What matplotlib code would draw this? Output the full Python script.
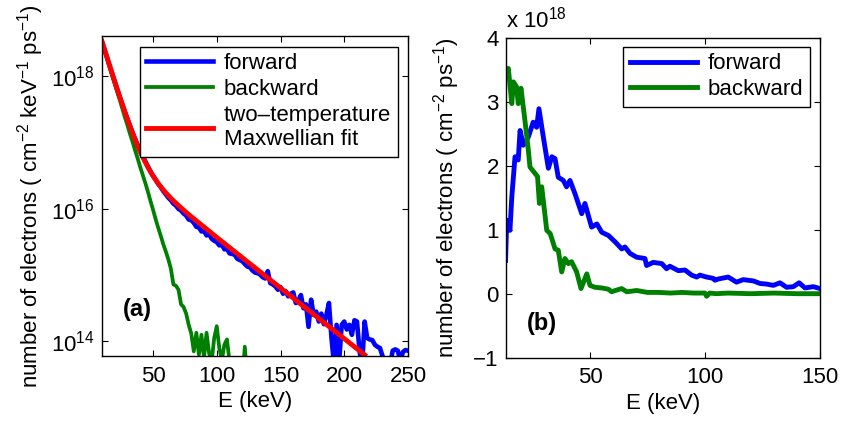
import numpy as np
import matplotlib
matplotlib.use("Agg")
import matplotlib.pyplot as plt

plt.rcParams['font.family'] = ['Liberation Sans', 'DejaVu Sans']
plt.rcParams['mathtext.fontset'] = 'custom'
plt.rcParams['mathtext.rm'] = 'Liberation Sans'
plt.rcParams['mathtext.it'] = 'Liberation Sans:italic'
plt.rcParams['mathtext.bf'] = 'Liberation Sans:bold'

# ---------------- (a) spectra per keV, log scale ----------------
energy_a = np.arange(10, 251, 2)  # keV

forward_log10 = [
    18.52, 18.40, 18.28, 18.155, 18.035, 17.915, 17.80, 17.685, 17.57, 17.46,
    17.355, 17.25, 17.15, 17.055, 16.96, 16.87, 16.795, 16.715, 16.64, 16.565,
    16.50, 16.445, 16.38, 16.33, 16.27, 16.22, 16.17, 16.13, 16.08, 16.05,
    16.00, 15.975, 15.93, 15.90, 15.84, 15.83, 15.79, 15.73, 15.72, 15.66,
    15.67, 15.60, 15.62, 15.55, 15.52, 15.50, 15.45, 15.46, 15.39, 15.40,
    15.33, 15.32, 15.31, 15.25, 15.23, 15.21, 15.17, 15.13, 15.12, 15.07,
    15.04, 15.03, 15.01, 14.97, 14.95, 15.06, 14.88, 14.86, 14.83, 14.78,
    14.82, 14.72, 14.76, 14.68, 14.72, 14.74, 14.58, 14.62, 14.70, 14.50,
    14.56, 14.22, 14.63, 14.40, 14.45, 14.30, 14.42, 14.26, 14.40, 14.58,
    14.05, 13.65, 14.25, 13.70, 14.25, 14.30, 14.18, 14.25, 14.10, 14.32,
    14.30, 13.85, 13.65, 14.30, 14.05, 14.03, 14.02, 13.95, 13.92, 13.90,
    13.78, 13.70, 13.60, 13.65, 13.86, 13.88, 13.86, 13.70, 13.84, 13.87,
    13.86,
]

backward_log10 = [
    18.52, 18.39, 18.27, 18.14, 18.01, 17.89, 17.76, 17.64, 17.51, 17.38,
    17.26, 17.13, 17.01, 16.88, 16.76, 16.63, 16.51, 16.39, 16.26, 16.12,
    15.99, 15.85, 15.72, 15.60, 15.47, 15.36, 15.24, 15.10, 14.86, 14.84,
    14.78, 14.56, 14.52, 14.42, 14.25, 14.12, 13.85, 14.13, 13.80, 14.10,
    13.75, 14.13, 13.82, 13.70, 14.05, 14.23, 13.90, 13.72, 13.95, 14.03,
    13.70, 13.40, 13.30, 13.30, 13.30, 13.40, 13.92, 13.40, 13.30,
]
energy_back_a = energy_a[:len(backward_log10)]

# two-temperature Maxwellian fit, sampled along the curve
fit_energy = [10, 12, 14, 16, 18, 20, 22, 24, 26, 28, 30, 32, 34, 36, 38, 40,
              42, 44, 46, 48, 50, 52, 54, 56, 58, 60, 62, 64, 66, 68, 70, 72,
              74, 76, 78, 80, 100, 130, 160, 190, 216]
fit_log10 = [18.53, 18.408, 18.286, 18.164, 18.044, 17.924, 17.805, 17.689,
             17.575, 17.463, 17.353, 17.247, 17.144, 17.045, 16.95, 16.859,
             16.783, 16.704, 16.631, 16.563, 16.50, 16.442, 16.387, 16.337,
             16.289, 16.245, 16.203, 16.162, 16.125, 16.087, 16.052, 16.017,
             15.983, 15.949, 15.916, 15.884, 15.571, 15.112, 14.654, 14.195,
             13.797]

# ---------------- (b) spectra, linear scale (units of 1e18) ----------------
forward_b_energy = [13.3, 13.8, 15.2, 16.0, 17.4, 18.8, 19.6, 21.0, 23.2, 25.3,
                    26.8, 27.8, 29.7, 31.9, 33.4, 34.8, 36.2, 38.4, 39.8, 41.3,
                    43.5, 46.4, 47.8, 50.7, 53.0, 55.1, 58.0, 60.9, 63.8, 65.2,
                    67.4, 70.3, 73.9, 74.6, 77.5, 81.2, 83.3, 84.7, 88.4, 91.3,
                    94.2, 96.4, 97.8, 100.7, 103.6, 104.3, 105.8, 110.1, 113.7,
                    116.6, 121.0, 123.9, 126.8, 129.7, 132.6, 135.5, 138.4,
                    140.9, 143.5, 147.1, 150.0]
forward_b = [0.52, 1.15, 0.99, 1.51, 2.14, 2.09, 2.55, 2.32, 2.45, 2.68,
             2.60, 2.89, 2.45, 1.96, 2.14, 2.11, 1.82, 1.77, 1.67, 1.77,
             1.56, 1.25, 1.41, 1.04, 1.09, 0.96, 0.91, 0.81, 0.70, 0.73,
             0.63, 0.57, 0.55, 0.44, 0.49, 0.47, 0.39, 0.43, 0.36, 0.37,
             0.29, 0.26, 0.29, 0.26, 0.24, 0.21, 0.23, 0.26, 0.18,
             0.22, 0.20, 0.16, 0.15, 0.13, 0.17, 0.10, 0.11,
             0.17, 0.09, 0.11, 0.08]

backward_b_energy = [13.3, 14.5, 16.0, 16.7, 18.1, 18.8, 20.0, 21.7, 23.2, 23.9,
                     26.1, 27.2, 28.0, 29.0, 31.2, 32.7, 34.8, 36.2, 37.7, 39.1,
                     40.6, 42.0, 44.2, 46.1, 48.6, 50.0, 52.2, 55.1, 58.0, 59.4,
                     61.0, 63.8, 66.0, 70.3, 75.0, 80.0, 85.0, 90.0, 95.0, 100.0,
                     100.7, 102.0, 105.0, 110.0, 120.0, 130.0, 140.0, 150.0]
backward_b = [3.39, 3.52, 2.97, 3.31, 3.23, 2.97, 3.21, 2.71, 2.24, 1.98,
              1.88, 1.83, 1.41, 1.67, 0.99, 0.94, 0.70, 0.68, 0.34, 0.55,
              0.47, 0.50, 0.34, 0.08, 0.31, 0.13, 0.10, 0.09, 0.07, 0.03,
              0.05, 0.08, 0.03, 0.05, 0.02, 0.02, 0.01, 0.02, 0.01, 0.01,
              -0.04, 0.01, 0.0, 0.01, 0.0, 0.01, 0.0, 0.0]

BLUE = (0, 0, 1)
GREEN = (0, 0.5, 0)
RED = (1, 0, 0)
FS = 16

W, H = 843, 423
fig = plt.figure(figsize=(W / 100, H / 100), dpi=100)

def style_axes(ax):
    ax.tick_params(direction='in', top=True, right=True, length=4, width=0.8,
                   labelsize=FS)
    ax.tick_params(axis='x', pad=7)
    ax.tick_params(axis='y', pad=5)
    ax.tick_params(which='minor', left=False, right=False, bottom=False, top=False)
    for s in ax.spines.values():
        s.set_linewidth(1.0)

legend_kw = dict(loc='upper right', borderaxespad=0, fontsize=FS,
                 handlelength=3.0, labelspacing=0.22, fancybox=False,
                 edgecolor='black', framealpha=1, borderpad=0.3,
                 handletextpad=0.5)

# panel (a)
ax1 = fig.add_axes([102 / W, (H - 356) / H, 306 / W, 320 / H])
ax1.plot(energy_a, 10 ** np.array(forward_log10), color=BLUE, lw=3.3, label='forward')
ax1.plot(energy_back_a, 10 ** np.array(backward_log10), color=GREEN, lw=2.7, label='backward')
ax1.plot(fit_energy, 10 ** np.array(fit_log10), color=RED, lw=3.5,
         label='two\u2013temperature\nMaxwellian fit')
ax1.set_yscale('log')
ax1.set_xlim(10, 250)
ax1.set_ylim(10 ** 13.78, 10 ** 18.61)
ax1.set_xticks([50, 100, 150, 200, 250])
ax1.set_yticks([1e14, 1e16, 1e18])
ax1.set_yticklabels([r'$10^{14}$', r'$10^{16}$', r'$10^{18}$'])
style_axes(ax1)
ax1.set_xlabel('E (keV)', fontsize=FS, labelpad=3)
ax1.set_ylabel(r'number of electrons ( cm$^{-2}$ keV$^{-1}$ ps$^{-1}$)', fontsize=FS, labelpad=4)
leg1 = ax1.legend(bbox_to_anchor=(0.967, 0.967), **legend_kw)
leg1.get_frame().set_linewidth(1.0)
ax1.text(0.117, 0.145, '(a)', transform=ax1.transAxes, fontsize=FS + 1,
         fontweight='bold', ha='center', va='center')

# panel (b)
ax2 = fig.add_axes([505.7 / W, (H - 357.7) / H, 314.3 / W, 320 / H])
ax2.plot(forward_b_energy, forward_b, color=BLUE, lw=3.5, label='forward')
ax2.plot(backward_b_energy, backward_b, color=GREEN, lw=3.5, label='backward')
ax2.set_xlim(13.35, 150)
ax2.set_ylim(-1, 4)
ax2.set_xticks([50, 100, 150])
ax2.set_yticks([-1, 0, 1, 2, 3, 4])
ax2.set_yticklabels(['\u22121', '0', '1', '2', '3', '4'])
style_axes(ax2)
ax2.set_xlabel('E (keV)', fontsize=FS, labelpad=3)
ax2.set_ylabel(r'number of electrons ( cm$^{-2}$ ps$^{-1}$)', fontsize=FS, labelpad=8)
ax2.text(0.0, 1.033, r'x 10$^{18}$', transform=ax2.transAxes, fontsize=FS,
         ha='left', va='baseline')
leg2 = ax2.legend(bbox_to_anchor=(0.968, 0.972), **legend_kw)
leg2.get_frame().set_linewidth(1.0)
ax2.text(0.116, 0.108, '(b)', transform=ax2.transAxes, fontsize=FS + 1,
         fontweight='bold', ha='center', va='center')

fig.savefig('out.png', dpi=100)
